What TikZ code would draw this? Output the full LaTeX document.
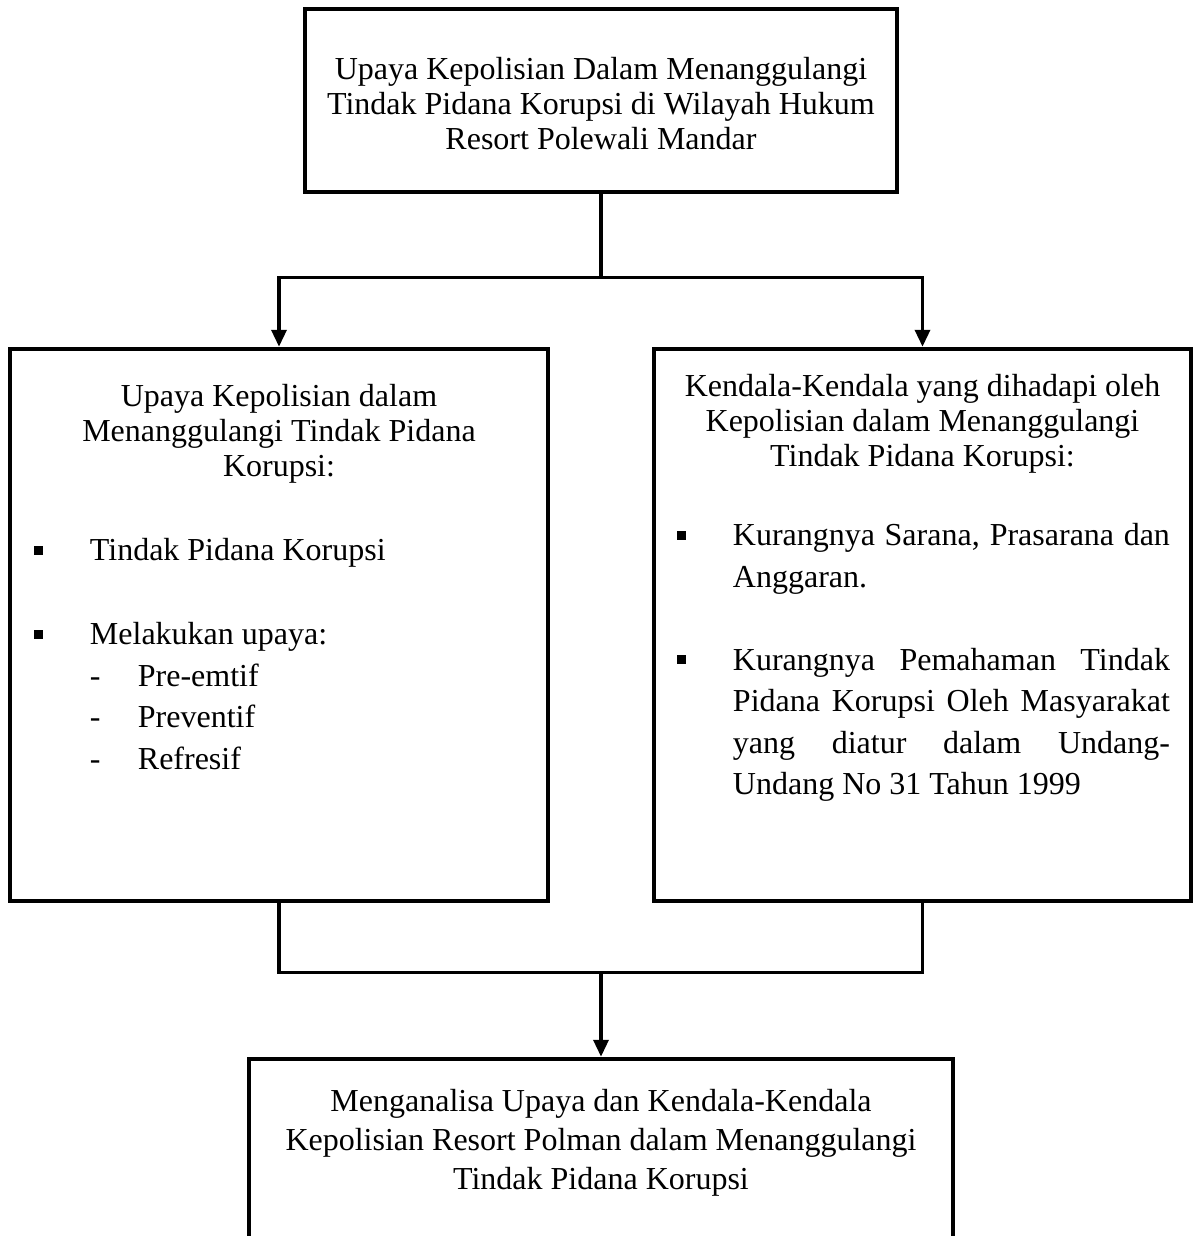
\documentclass[tikz,border=0pt]{standalone}
\usepackage{fontspec}
\setmainfont{Liberation Serif}
\usetikzlibrary{positioning, arrows.meta}

\tikzset{
  box/.style={draw, line width=4.5pt, inner sep=0pt},
  txt/.style={font=\fontsize{32}{35}\selectfont, inner sep=0pt, align=center},
  lst/.style={font=\fontsize{32}{41.5}\selectfont, inner sep=0pt, align=left},
  link/.style={line width=3.5pt},
  arr/.style={link, -{Triangle[width=15pt,length=17pt]}}
}
\newcommand{\sqbul}{\llap{\rule[6pt]{9pt}{9pt}\hspace{47pt}}}
\newcommand{\dashbul}{\makebox[48pt][l]{-}}

\begin{document}
\begin{tikzpicture}[x=1pt, y=-1pt]
  \clip (0,0) rectangle (1197,1236);

  % ── Boxes ──
  \node[box, minimum width=592pt, minimum height=183pt] (top) at (601,100.5) {};
  \node[box, minimum width=538pt, minimum height=552pt] (lbox) at (279,625) {};
  \node[box, minimum width=537pt, minimum height=552pt] (rbox) at (922.5,625) {};
  \node[box, minimum width=704pt, minimum height=260pt] (bbox) at (601,1189) {};

  % ── Top text ──
  \node[txt, below=48.5pt of top.north] (toptext)
    {\strut Upaya Kepolisian Dalam Menanggulangi\\
     Tindak Pidana Korupsi di Wilayah Hukum\\
     Resort Polewali Mandar};

  % ── Left box ──
  \node[txt, below=35.5pt of lbox.north] (lhead)
    {\strut Upaya Kepolisian dalam\\
     Menanggulangi Tindak Pidana\\
     Korupsi:};
  \node[lst, below right=184.5pt and 82pt of lbox.north west] (llist)
    {\strut\sqbul Tindak Pidana Korupsi\\[42.5pt]
     \sqbul Melakukan upaya:\\
     \dashbul Pre-emtif\\
     \dashbul Preventif\\
     \dashbul Refresif};

  % ── Right box ──
  \node[txt, below=25pt of rbox.north] (rhead)
    {\strut Kendala-Kendala yang dihadapi oleh\\
     Kepolisian dalam Menanggulangi\\
     Tindak Pidana Korupsi:};
  \node[lst, below right=169.5pt and 81pt of rbox.north west] (rlist)
    {\strut\sqbul\makebox[437pt][s]{Kurangnya Sarana, Prasarana dan}\\
     Anggaran.\\[41.5pt]
     \sqbul\makebox[437pt][s]{Kurangnya Pemahaman Tindak}\\
     \makebox[437pt][s]{Pidana Korupsi Oleh Masyarakat}\\
     \makebox[437pt][s]{yang diatur dalam Undang-}\\
     Undang No 31 Tahun 1999};

  % ── Bottom text ──
  \node[txt, font=\fontsize{32}{39}\selectfont, below=27.7pt of bbox.north] (btext)
    {\strut Menganalisa Upaya dan Kendala-Kendala\\
     Kepolisian Resort Polman dalam Menanggulangi\\
     Tindak Pidana Korupsi};

  % ── Connectors ──
  \draw[link] (top.south) -- ++(0,83) coordinate (split);
  \draw[arr] (split) -| (lbox.north);
  \draw[arr] (split) -| (rbox.north);
  \draw[link] (lbox.south) -- ++(0,69) coordinate (ljoin) -- (ljoin -| rbox.south) -- (rbox.south);
  \coordinate (join) at (ljoin -| bbox.north);
  \draw[arr] (join) -- (bbox.north);
\end{tikzpicture}
\end{document}
